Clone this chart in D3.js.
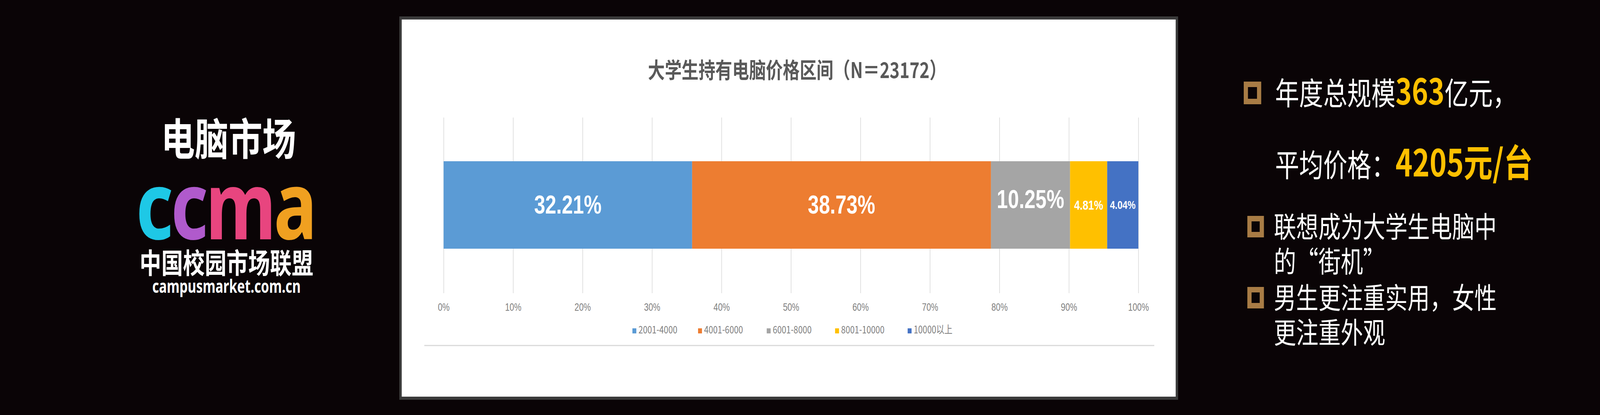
<!DOCTYPE html>
<html><head><meta charset="utf-8">
<script src="https://cdn.jsdelivr.net/npm/d3@7"></script>
<style>html,body{margin:0;background:#0a0406;overflow:hidden;width:100%;height:100%}svg{display:block}</style>
</head><body>
<script>
const categories = ["2001-4000", "4001-6000", "6001-8000", "8001-10000", "10000以上"];
const values = [32.21, 38.73, 10.25, 4.81, 4.04];
const colors = ["#5b9bd5", "#ed7d31", "#a5a5a5", "#ffc000", "#4472c4"];
const ticks = [0, 0.1, 0.2, 0.3, 0.4, 0.5, 0.6, 0.7, 0.8, 0.9, 1];

const W = 5313, H = 1063;
const cjk = "'Noto Sans CJK SC', 'Noto Sans', sans-serif";
const narrow = "'Liberation Sans Narrow', 'Liberation Sans', sans-serif";
const svg = d3.select("body").append("svg")
  .attr("width", "100vw").attr("height", "100vh")
  .attr("viewBox", `0 0 ${W} ${H}`).attr("preserveAspectRatio", "none");
svg.append("rect").attr("width", W).attr("height", H).attr("fill", "#0a0406");

// left block
svg.append("text").attr("x", 759).attr("y", 398).attr("text-anchor", "middle")
  .attr("font-family", cjk).attr("font-weight", 700).attr("font-size", 112)
  .attr("fill", "#fff").text("电脑市场");
const logo = svg.append("text").attr("x", 748).attr("y", 613).attr("text-anchor", "middle")
  .attr("font-family", "'Noto Sans', sans-serif").attr("font-weight", 700).attr("font-size", 240)
  .attr("letter-spacing", -8);
[["c", "#1ec8e6"], ["c", "#b05acc"], ["m", "#e8457f"], ["a", "#f0a020"]].forEach(d =>
  logo.append("tspan").attr("fill", d[1]).text(d[0]));
svg.append("text").attr("x", 752).attr("y", 700).attr("text-anchor", "middle")
  .attr("font-family", cjk).attr("font-weight", 700).attr("font-size", 72)
  .attr("textLength", 577).attr("fill", "#fff").text("中国校园市场联盟");
svg.append("text").attr("x", 752).attr("y", 750).attr("text-anchor", "middle")
  .attr("font-family", "'Noto Sans', sans-serif").attr("font-weight", 700).attr("font-size", 46)
  .attr("textLength", 493).attr("lengthAdjust", "spacingAndGlyphs").attr("fill", "#fff").text("campusmarket.com.cn");

// chart panel
svg.append("rect").attr("x", 1330).attr("y", 46).attr("width", 2578).attr("height", 974)
  .attr("fill", "#fff").attr("stroke", "#3a3a3a").attr("stroke-width", 8);
svg.append("text").attr("x", 2647).attr("y", 200).attr("text-anchor", "middle")
  .attr("font-family", cjk).attr("font-weight", 700).attr("font-size", 56)
  .attr("fill", "#595959").text("大学生持有电脑价格区间（N＝23172）");

const x = d3.scaleLinear().domain([0, 1]).range([1473, 3780]);
const row = {};
categories.forEach((c, i) => row[c] = values[i]);
const stack = d3.stack().keys(categories).offset(d3.stackOffsetExpand)([row]);

const axis = svg.append("g").attr("transform", "translate(0,751)")
  .call(d3.axisBottom(x).tickValues(ticks).tickFormat(d3.format(".0%")).tickSize(-450).tickPadding(26));
axis.select(".domain").remove();
axis.selectAll(".tick line").attr("stroke", "#d9d9d9").attr("stroke-width", 2);
axis.selectAll(".tick text").attr("font-family", narrow)
  .attr("font-size", 27).attr("fill", "#7f7f7f");

const barY = 413, barH = 224;
svg.selectAll(".bar").data(stack).join("rect").attr("class", "bar")
  .attr("x", d => x(d[0][0])).attr("width", d => x(d[0][1]) - x(d[0][0]))
  .attr("y", barY).attr("height", barH).attr("fill", (d, i) => colors[i]);
const lblSize = [66, 66, 66, 34, 30];
const lblDy = [22, 22, 8, 12, 10];
svg.selectAll(".lbl").data(stack).join("text").attr("class", "lbl")
  .attr("x", d => (x(d[0][0]) + x(d[0][1])) / 2).attr("y", (d, i) => barY + barH / 2 + lblDy[i])
  .attr("text-anchor", "middle").attr("font-family", narrow)
  .attr("font-weight", 700).attr("font-size", (d, i) => lblSize[i]).attr("fill", "#fff")
  .text((d, i) => values[i].toFixed(2) + "%");

// legend
const legX = [2100, 2318, 2546, 2773, 3014];
const leg = svg.selectAll(".leg").data(categories).join("g").attr("class", "leg")
  .attr("transform", (d, i) => `translate(${legX[i]},850)`);
leg.append("rect").attr("x", 0).attr("y", -9).attr("width", 13).attr("height", 13).attr("fill", (d, i) => colors[i]);
leg.append("text").attr("x", 20).attr("y", 4).attr("font-family", "'Liberation Sans Narrow', " + cjk)
  .attr("font-size", 27).attr("fill", "#7f7f7f").text(d => d);
svg.append("line").attr("x1", 1409).attr("x2", 3833).attr("y1", 885).attr("y2", 885)
  .attr("stroke", "#d9d9d9").attr("stroke-width", 3);

// right block
const gold = "#a87c45", yellow = "#ffc000";
[[4130, 209, 58], [4142, 553, 55], [4142, 735, 55]].forEach(b =>
  svg.append("rect").attr("x", b[0] + 7).attr("y", b[1] + 7).attr("width", b[2] - 14).attr("height", b[2] - 14)
    .attr("fill", "none").attr("stroke", gold).attr("stroke-width", 14));
const t1 = svg.append("text").attr("x", 4234).attr("y", 268).attr("font-family", cjk)
  .attr("font-size", 80).attr("fill", "#fff");
t1.append("tspan").text("年度总规模");
t1.append("tspan").attr("fill", yellow).attr("font-weight", 700).attr("font-size", 92).text("363");
t1.append("tspan").text("亿元，");
const t2 = svg.append("text").attr("x", 4234).attr("y", 452).attr("font-family", cjk)
  .attr("font-size", 80).attr("fill", "#fff");
t2.append("tspan").text("平均价格：");
t2.append("tspan").attr("fill", yellow).attr("font-weight", 700).attr("font-size", 96).text("4205元/台");
[["联想成为大学生电脑中", 608], ["的“街机”", 697], ["男生更注重实用，女性", 790], ["更注重外观", 879]].forEach(l =>
  svg.append("text").attr("x", 4230).attr("y", l[1]).attr("font-family", cjk)
    .attr("font-size", 74).attr("fill", "#fff").text(l[0]));
</script>
</body></html>
